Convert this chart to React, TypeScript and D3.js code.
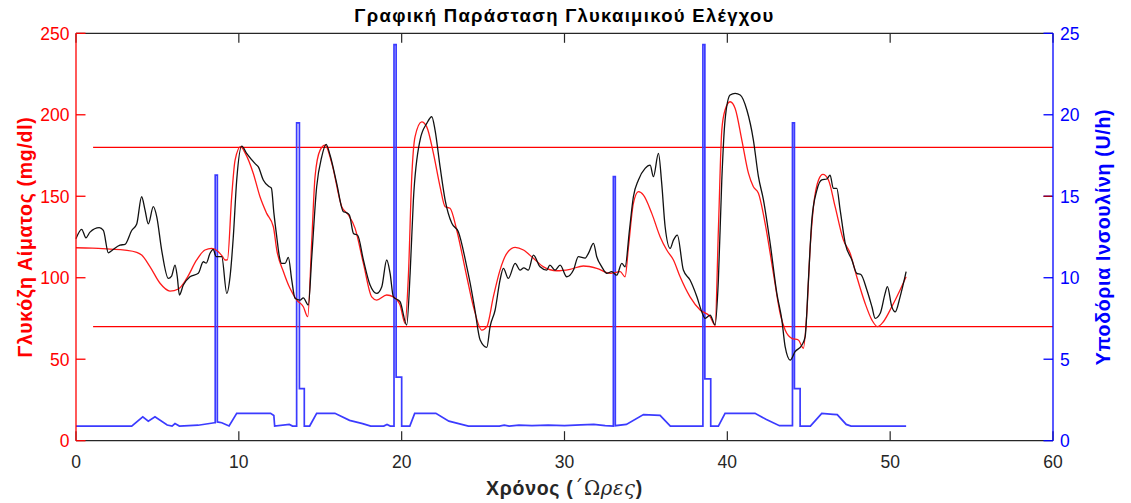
import React from "react";
import * as d3 from "d3";

// ---- data ----
const cgmT = [0,0.35,0.61,0.86,1.43,1.68,1.99,2.19,2.7,3.01,3.42,3.73,4.03,4.24,4.44,4.75,4.96,5.26,5.67,5.87,6.08,6.22,6.35,6.59,7.0,7.51,7.82,8.0,8.23,8.43,8.6,8.95,9.26,9.46,9.66,9.87,10.18,10.48,11.0,11.2,11.5,11.85,12.0,12.15,12.33,12.49,12.63,12.84,13.04,13.25,13.45,13.76,13.96,14.27,14.48,14.78,15.09,15.36,15.6,16.01,16.42,16.6,16.79,17.04,17.3,17.65,18.06,18.47,18.78,19.08,19.29,19.49,19.9,20.31,20.52,20.72,21.13,21.54,21.85,22.05,22.36,22.67,23.08,23.48,24.0,24.2,24.5,24.82,25.23,25.43,25.74,26.04,26.25,26.55,26.97,27.27,27.5,27.78,28.09,28.5,28.91,29.1,29.42,29.73,30.14,30.55,30.85,31.27,31.47,31.78,31.98,32.29,32.6,32.9,33.21,33.52,33.72,33.99,34.23,34.54,34.95,35.26,35.46,35.77,35.97,36.18,36.49,36.69,36.93,37.3,37.71,38.13,38.43,38.64,38.94,39.25,39.45,39.66,39.86,40.17,40.48,40.79,41.2,41.6,41.91,42.22,42.63,43.04,43.35,43.55,43.86,44.16,44.58,44.78,44.98,45.19,45.5,45.8,46.11,46.31,46.51,46.72,46.93,47.24,47.65,47.95,48.2,48.57,48.88,49.08,49.39,49.69,49.83,50.1,50.31,50.61,50.98];
const cgmG = [124,129.7,124.5,128,130.7,129,115.3,116.6,120,120.5,129,133,149.7,141.5,133,143.6,137.4,117,99.6,101,107.8,100.6,89.4,95.5,100.6,102.7,109.8,109,115,117.4,113,112.9,90.4,100.6,125,160,180.8,176.3,170,168,160,156,155,140,125,113,108.8,108.8,112.5,98.6,87.4,86.3,87.6,83.3,112.9,155.8,174.2,181.8,175.3,157.9,140.5,140,138.5,127.2,126,110.9,95.5,90.4,94.5,110.9,102.7,88.3,85.3,71,102.7,147.7,184.5,194.7,198.8,190.6,168,147.7,133.4,128.2,106.7,97,80.2,61.8,57.3,70,80.2,98.6,105.8,99.6,108.8,104.7,106,104.7,113.9,106.7,104.7,107.8,104.7,107.8,100.6,104.7,112.9,112,115,121.1,112.9,106.7,102.7,103.7,101.6,108.8,106.7,129.3,149.7,160,167.1,169.1,162,176.3,157.9,131.3,118,123.1,126.2,104.7,98.6,88.3,79.1,75.1,77.1,71,98.6,160,196.7,212.1,213.1,212.1,202.9,184.5,162,147.7,121.1,90.4,74,57.7,49.5,54.6,58.7,63.8,98.6,135.4,153.8,160,160.6,163,154.8,154.8,141.5,121.1,110.9,102.7,102,92.5,82.2,75.1,78.2,90.4,94.5,82.2,79.1,88.3,103.7];

const modelT = [0,1.0,2.09,3.0,3.73,4.03,4.55,5.16,5.77,6.29,6.8,7.41,7.92,8.33,8.74,9.0,9.15,9.3,9.56,9.77,10.11,10.4,10.89,11.3,11.71,12.12,12.33,12.74,13.14,13.56,13.96,14.23,14.48,14.68,14.99,15.3,15.71,16.32,16.73,17.14,17.65,18.16,18.47,19.08,19.49,19.9,20.21,20.41,20.62,20.82,21.23,21.54,21.95,22.36,22.67,22.97,23.38,24.0,24.41,24.92,25.23,25.63,26.04,26.46,26.97,27.48,28.09,28.71,29.53,30.34,31.16,31.98,32.8,33.42,33.72,33.93,34.23,34.54,34.85,35.36,35.87,36.28,36.69,37.1,37.71,38.33,38.94,39.25,39.45,39.66,39.86,40.17,40.48,40.89,41.3,41.6,41.91,42.32,42.83,43.24,43.55,43.96,44.36,44.67,44.88,45.09,45.29,45.6,45.87,46.21,46.62,47.13,47.54,47.95,48.46,48.88,49.22,49.58,50.1,50.61,50.98];
const modelG = [118.4,118.2,117.6,117,115.6,113.9,106.7,96.6,91.8,93.1,99.6,110.9,117,118,116,113,110.9,111,149.7,172.2,180.4,176.3,164,149.7,139.5,131.3,117,103.7,93.5,86.3,82.2,76.1,123.1,162,178.3,181.4,170.2,143.6,138.5,130.3,108.8,88.3,86.3,89.4,88.3,83.3,72,100.6,162,186.5,195.7,192.6,176.3,155.8,143.6,142.6,129.3,100.6,82.2,67.9,70,88.3,104.7,115,118.6,117,111.9,106.7,104.3,105.2,107.2,105.8,102.7,103.7,100.6,119,145.6,152.8,150.7,139.5,125.2,117,110.9,100.6,88.3,80.2,76.1,71,129.3,190.6,202.9,208,203.9,184.5,164,155.8,151.8,133.4,102.7,78.2,67.9,62.8,61.8,56.7,78.2,119,143.6,160,163.4,160,143.6,123.1,115,100.6,84.3,74,70,73,82.2,92.5,100.6];

const insT = [0,3.42,4.1,4.44,4.85,5.6,5.9,6.08,6.35,7.5,8.5,8.55,8.55,8.68,8.68,8.95,9.4,9.87,11.95,12.15,12.2,13.1,13.3,13.55,13.55,13.72,13.72,14.02,14.02,14.35,14.78,15.9,16.8,17.6,18.1,18.9,19.1,19.3,19.53,19.53,19.66,19.66,20.0,20.0,20.5,20.8,22.1,22.9,23.5,24.1,26.0,26.3,26.6,27.2,28.0,29.0,30.0,31.0,31.8,32.5,33.0,33.0,33.12,33.12,33.8,34.85,35.87,36.5,38.5,38.5,38.62,38.62,38.98,38.98,39.45,39.86,41.7,42.4,43.2,44.0,44.0,44.12,44.12,44.47,44.47,45.1,45.8,46.5,46.75,47.3,47.6,50.98];
const insU = [0.9,0.9,1.47,1.2,1.47,0.96,0.9,1.05,0.9,0.95,1.1,1.1,16.3,16.3,1.15,1.1,0.9,1.68,1.68,1.55,0.9,1.0,0.9,0.9,19.5,19.5,3.2,3.2,0.9,0.9,1.68,1.68,1.25,1.05,0.9,0.9,1.0,0.9,0.9,24.3,24.3,3.9,3.9,0.9,0.9,1.68,1.68,1.2,1.05,0.9,0.9,0.95,0.9,0.95,0.93,0.95,0.92,0.97,1.0,0.92,0.9,16.2,16.2,0.92,1.0,1.6,1.55,0.9,0.9,24.3,24.3,3.8,3.8,0.9,0.9,1.68,1.68,1.3,0.92,0.92,19.5,19.5,3.2,3.2,0.9,0.9,1.68,1.62,1.6,1.0,0.9,0.9];

const thresholds = [180, 70];
const thresholdStart = 1.05;

const xTicks = [0, 10, 20, 30, 40, 50, 60];
const yLeftTicks = [0, 50, 100, 150, 200, 250];
const yRightTicks = [0, 5, 10, 15, 20, 25];

const title = "Γραφική Παράσταση Γλυκαιμικού Ελέγχου";
const yLeftLabel = "Γλυκόζη Αίματος (mg/dl)";
const yRightLabel = "Υποδόρια Ινσουλίνη (U/h)";

// ---- layout ----
const W = 1131, H = 503;
const L = 76, R = 1053, T = 33.3, B = 440.7;
const FONT = "'Liberation Sans', Arial, Helvetica, sans-serif";
const AX = "#262626";

export default function App() {
  const x = d3.scaleLinear().domain([0, 60]).range([L, R]);
  const yL = d3.scaleLinear().domain([0, 250]).range([B, T]);
  const yR = d3.scaleLinear().domain([0, 25]).range([B, T]);

  const lineL = d3.line<[number, number]>().x(d => x(d[0])).y(d => yL(d[1])).curve(d3.curveMonotoneX);
  const lineR = d3.line<[number, number]>().x(d => x(d[0])).y(d => yR(d[1]));

  const cgm = cgmT.map((t, i) => [t, cgmG[i]] as [number, number]);
  const model = modelT.map((t, i) => [t, modelG[i]] as [number, number]);
  const ins = insT.map((t, i) => [t, insU[i]] as [number, number]);

  const tickLen = 9.5;

  return (
    <svg width={W} height={H} style={{ position: "absolute", left: 0, top: 0, background: "#fff" }}>
      <rect x={0} y={0} width={W} height={H} fill="#fff" />
      {thresholds.map(v => (
        <line key={v} x1={x(thresholdStart)} x2={R} y1={yL(v)} y2={yL(v)} stroke="#ff0000" strokeWidth={1.3} />
      ))}
      <path d={lineR(ins) || ""} fill="none" stroke="#3b3bff" strokeWidth={1.7} strokeLinejoin="miter" />
      <path d={lineL(model) || ""} fill="none" stroke="#ff1a1a" strokeWidth={1.3} />
      <path d={lineL(cgm) || ""} fill="none" stroke="#111" strokeWidth={1.3} />

      <line x1={L} x2={R} y1={T} y2={T} stroke={AX} strokeWidth={1.2} />
      <line x1={L} x2={R} y1={B} y2={B} stroke={AX} strokeWidth={1.2} />
      {xTicks.map(v => (
        <g key={v}>
          <line x1={x(v)} x2={x(v)} y1={B} y2={B - tickLen} stroke={AX} strokeWidth={1.2} />
          <line x1={x(v)} x2={x(v)} y1={T} y2={T + tickLen} stroke={AX} strokeWidth={1.2} />
          <text x={x(v)} y={468} textAnchor="middle" fontFamily={FONT} fontSize={17.5} fill={AX}>{v}</text>
        </g>
      ))}
      <line x1={L} x2={L} y1={T} y2={B} stroke="#ff0000" strokeWidth={1.3} />
      {yLeftTicks.map(v => (
        <g key={v}>
          <line x1={L} x2={L + tickLen} y1={yL(v)} y2={yL(v)} stroke="#ff0000" strokeWidth={1.3} />
          <text x={69.5} y={yL(v)} dy="0.36em" textAnchor="end" fontFamily={FONT} fontSize={17.5} fill="#ff0000">{v}</text>
        </g>
      ))}
      <line x1={R} x2={R} y1={T} y2={B} stroke="#0000ff" strokeWidth={1.3} />
      {yRightTicks.map(v => (
        <g key={v}>
          <line x1={R} x2={R - tickLen} y1={yR(v)} y2={yR(v)} stroke="#0000ff" strokeWidth={1.3} />
          <text x={1060} y={yR(v)} dy="0.36em" textAnchor="start" fontFamily={FONT} fontSize={17.5} fill="#0000ff">{v}</text>
        </g>
      ))}
      <line x1={R - tickLen} x2={R - 1} y1={yL(150)} y2={yL(150)} stroke="#b00000" strokeWidth={1.3} />

      <text x={(L + R) / 2} y={22} textAnchor="middle" fontFamily={FONT} fontWeight="bold" fontSize={18.5} letterSpacing={1.3} fill="#000">{title}</text>
      <text x={(L + R) / 2} y={495} textAnchor="middle" fontFamily={FONT} fontWeight="bold" fontSize={19.5} letterSpacing={0.7} fill={AX}>
        <tspan>Χρόνος (</tspan>
        <tspan fontFamily="'DejaVu Serif', serif" fontWeight="normal">΄Ω</tspan>
        <tspan fontFamily="'DejaVu Serif', serif" fontWeight="normal" fontStyle="italic">ρες</tspan>
        <tspan>)</tspan>
      </text>
      <text transform={`translate(31.5,${(T + B) / 2}) rotate(-90)`} textAnchor="middle" fontFamily={FONT} fontWeight="bold" fontSize={19.5} letterSpacing={0.7} fill="#ff0000">{yLeftLabel}</text>
      <text transform={`translate(1110,${(T + B) / 2}) rotate(-90)`} textAnchor="middle" fontFamily={FONT} fontWeight="bold" fontSize={19.5} letterSpacing={0.7} fill="#0000ff">{yRightLabel}</text>
    </svg>
  );
}
